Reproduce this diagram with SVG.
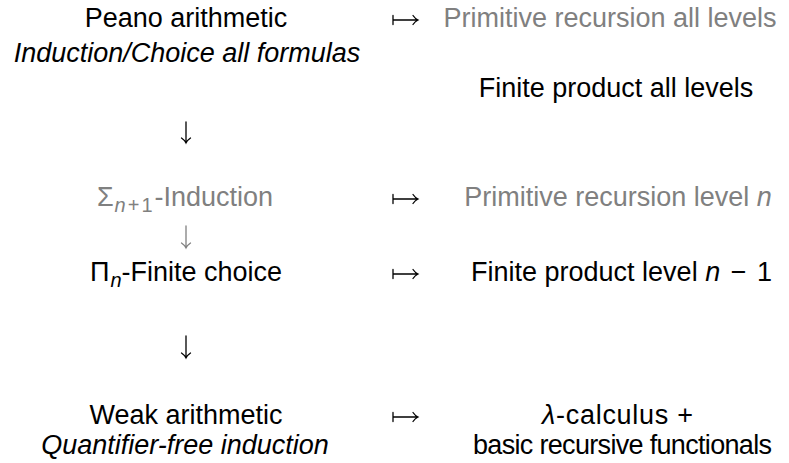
<svg xmlns="http://www.w3.org/2000/svg" width="789" height="463" viewBox="0 0 789 463">
<style>
text{font-family:"Liberation Sans",Arial,sans-serif;font-size:27px;fill:#000;text-anchor:middle}
.g{fill:#808080}
.i{font-style:italic}
.sub{font-size:20px}
.arr{fill:none;stroke:#000;stroke-width:1.3;stroke-linecap:round}
.ga{stroke:#808080}
</style>
<rect width="789" height="463" fill="#fff"/>
<g id="peano">
<text x="186" y="27">Peano arithmetic</text>
<text x="187" y="62" class="i">Induction/Choice all formulas</text>
</g>
<g id="primrec-all"><text x="610" y="27" class="g">Primitive recursion all levels</text></g>
<g id="finprod-all"><text x="616" y="97">Finite product all levels</text></g>
<g id="sigma-ind"><text x="185" y="206" class="g">Σ<tspan class="sub i" dx="1" dy="6">n</tspan><tspan class="sub" dx="2">+</tspan><tspan class="sub" dx="2">1</tspan><tspan dx="2" dy="-6">-Induction</tspan></text></g>
<g id="primrec-n"><text x="618" y="206" class="g">Primitive recursion level <tspan class="i">n</tspan></text></g>
<g id="pi-choice"><text x="186" y="281">Π<tspan class="sub i" dx="1" dy="6">n</tspan><tspan dy="-6">-Finite choice</tspan></text></g>
<g id="finprod-n"><text x="621.5" y="281">Finite product level <tspan class="i">n</tspan><tspan dx="3"> − </tspan><tspan dx="3">1</tspan></text></g>
<g id="weak">
<text x="186" y="424">Weak arithmetic</text>
<text x="185" y="454" class="i">Quantifier-free induction</text>
</g>
<g id="lambda">
<text x="617.5" y="424" textLength="151" lengthAdjust="spacing"><tspan class="i">λ</tspan>-calculus +</text>
<text x="622.5" y="454" textLength="299" lengthAdjust="spacing">basic recursive functionals</text>
</g>
<g id="connectors">
<path class="arr" d="M186,122V143M181.5,138Q184.5,140 186,143Q187.5,140 190.5,138"/>
<path class="arr ga" d="M186,226V248M181.5,243Q184.5,245 186,248Q187.5,245 190.5,243"/>
<path class="arr" d="M186,336V358M181.5,353Q184.5,355 186,358Q187.5,355 190.5,353"/>
<path class="arr" d="M393,15.5V24.5M393,20H418M413,15.5Q415,18.5 418,20Q415,21.5 413,24.5"/>
<path class="arr" d="M393,194.5V203.5M393,199H418M413,194.5Q415,197.5 418,199Q415,200.5 413,203.5"/>
<path class="arr" d="M393,269.5V278.5M393,274H418M413,269.5Q415,272.5 418,274Q415,275.5 413,278.5"/>
<path class="arr" d="M393,412.5V421.5M393,417H418M413,412.5Q415,415.5 418,417Q415,418.5 413,421.5"/>
</g>
</svg>
